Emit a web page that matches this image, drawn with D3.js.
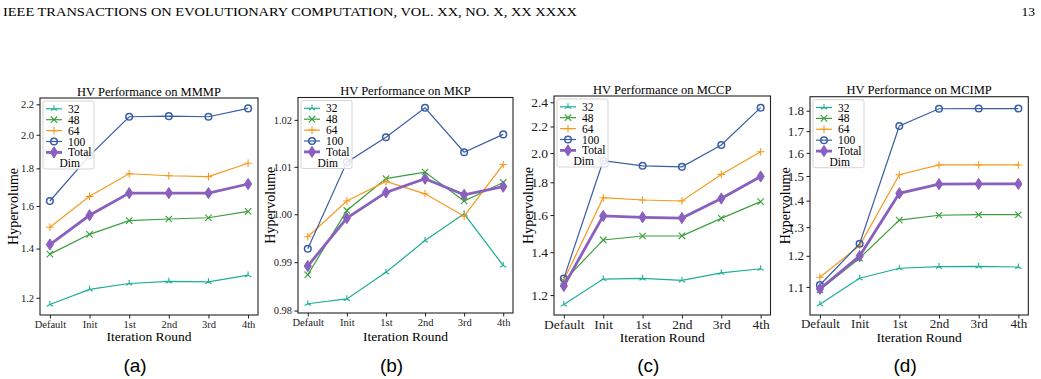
<!DOCTYPE html>
<html>
<head>
<meta charset="utf-8">
<script src="https://cdn.jsdelivr.net/npm/d3@7"></script>
<style>
  body { margin: 0; background: #fff; }
  svg { display: block; }
</style>
</head>
<body>
<svg width="1041" height="379"></svg>
<script>
// values
const rounds = ['Default', 'Init', '1st', '2nd', '3rd', '4th'];
const dimNames = ['32', '48', '64', '100', 'Total'];
const dimColors = ['#1cae98', '#3a9f3c', '#f59a1e', '#3a5da6', '#8a60bf'];

// rows: 32, 48, 64, 100, Total
const mmmp = [
  [1.175, 1.232, 1.255, 1.263, 1.261, 1.288],
  [1.376, 1.464, 1.528, 1.536, 1.542, 1.573],
  [1.497, 1.649, 1.770, 1.759, 1.754, 1.829],
  [1.625, 1.873, 2.116, 2.120, 2.116, 2.172],
  [1.418, 1.554, 1.666, 1.666, 1.666, 1.714]
];
const mmmpTicks = [1.2, 1.4, 1.6, 1.8, 2.0, 2.2];

const mkp = [
  [0.9814, 0.9824, 0.9879, 0.9945, 1.0001, 0.9893],
  [0.9874, 1.0008, 1.0075, 1.0089, 1.0028, 1.0067],
  [0.9953, 1.0028, 1.0069, 1.0043, 0.9996, 1.0105],
  [0.9928, 1.0110, 1.0163, 1.0226, 1.0131, 1.0169],
  [0.9892, 0.9992, 1.0046, 1.0075, 1.0041, 1.0058]
];
const mkpTicks = [0.98, 0.99, 1.00, 1.01, 1.02];

const mccp = [
  [1.160, 1.271, 1.274, 1.265, 1.300, 1.319],
  [1.262, 1.463, 1.484, 1.485, 1.581, 1.679],
  [1.266, 1.703, 1.689, 1.683, 1.852, 2.009],
  [1.274, 1.945, 1.910, 1.903, 2.058, 2.354],
  [1.240, 1.595, 1.587, 1.583, 1.698, 1.838]
];
const mccpTicks = [1.2, 1.4, 1.6, 1.8, 2.0, 2.2, 2.4];

const mcimp = [
  [1.048, 1.127, 1.159, 1.164, 1.165, 1.163],
  [1.091, 1.192, 1.326, 1.344, 1.346, 1.346],
  [1.130, 1.235, 1.505, 1.547, 1.547, 1.547],
  [1.106, 1.241, 1.725, 1.810, 1.811, 1.811],
  [1.094, 1.199, 1.429, 1.466, 1.467, 1.467]
];
const mcimpTicks = [1.1, 1.2, 1.3, 1.4, 1.5, 1.6, 1.7, 1.8];

// each subfigure was a separate image, so each gets its own box / font sizes
var panels = [
  {title: 'HV Performance on MMMP', data: mmmp, ticks: mmmpTicks, fmt: '.1f', dom: [1.137, 2.244],
   x: 40, y: 98, w: 218, h: 217, tickFont: 10.5, xPad: 2, xlabY: 340.5, ylabX: 13, tag: '(a)'},
  {title: 'HV Performance on MKP', data: mkp, ticks: mkpTicks, fmt: '.2f', dom: [0.9795, 1.0248],
   x: 298, y: 97.5, w: 215, h: 215.5, tickFont: 10.5, xPad: 2, xlabY: 340.5, ylabX: 270, tag: '(b)'},
  {title: 'HV Performance on MCCP', data: mccp, ticks: mccpTicks, fmt: '.1f', dom: [1.117, 2.455],
   x: 554, y: 96, w: 216.5, h: 219, tickFont: 13.5, xPad: 0.5, xlabY: 342, ylabX: 528, tag: '(c)'},
  {title: 'HV Performance on MCIMP', data: mcimp, ticks: mcimpTicks, fmt: '.1f', dom: [1.017, 1.872],
   x: 810, y: 96.7, w: 218.3, h: 218.3, tickFont: 13, xPad: 0.5, xlabY: 342, ylabX: 785, tag: '(d)'}
];

var serif = '"Liberation Serif", "Times New Roman", serif';
var svg = d3.select('svg');

svg.append('text')
  .attr('x', 3).attr('y', 16)
  .attr('textLength', 574).attr('lengthAdjust', 'spacingAndGlyphs')
  .style('font-family', serif).style('font-size', '13.5px')
  .text('IEEE TRANSACTIONS ON EVOLUTIONARY COMPUTATION, VOL. XX, NO. X, XX XXXX');
svg.append('text')
  .attr('x', 1035).attr('y', 16).attr('text-anchor', 'end')
  .style('font-family', serif).style('font-size', '13.5px')
  .text('13');

function drawMarker(g, i, color) {
  if (i === 0) {
    // tri_up
    var r = 3.6;
    g.append('path')
      .attr('d', 'M0,0L0,' + (-r) + 'M0,0L' + (-r * 0.87) + ',' + (r * 0.5) + 'M0,0L' + (r * 0.87) + ',' + (r * 0.5))
      .attr('stroke', color).attr('stroke-width', 1.1).attr('fill', 'none');
  } else if (i === 1) {
    var s = 3.2;
    g.append('path')
      .attr('d', `M${-s},${-s}L${s},${s}M${-s},${s}L${s},${-s}`)
      .attr('stroke', color).attr('stroke-width', 1.1).attr('fill', 'none');
  } else if (i === 2) {
    var p = 3.8;
    g.append('path')
      .attr('d', `M${-p},0L${p},0M0,${-p}L0,${p}`)
      .attr('stroke', color).attr('stroke-width', 1.1).attr('fill', 'none');
  } else if (i === 3) {
    g.append('circle').attr('r', 3.3)
      .attr('fill', 'none').attr('stroke', color).attr('stroke-width', 1.5);
  } else {
    g.append('path')
      .attr('d', 'M0,-5.6L3.6,0L0,5.6L-3.6,0Z')
      .attr('fill', color).attr('stroke', color).attr('stroke-width', 1);
  }
}

panels.forEach(function(pn) {
  var g = svg.append('g');

  var x = d3.scalePoint()
    .domain(rounds)
    .range([pn.x, pn.x + pn.w])
    .padding(0.25);

  var y = d3.scaleLog()
    .domain(pn.dom)
    .range([pn.y + pn.h, pn.y]);

  // axes
  var yAxis = d3.axisLeft(y)
    .tickValues(pn.ticks)
    .tickFormat(d3.format(pn.fmt))
    .tickSize(3.5)
    .tickPadding(2.5);
  var ya = g.append('g')
    .attr('transform', 'translate(' + pn.x + ',0)')
    .call(yAxis);

  var xAxis = d3.axisBottom(x)
    .tickSize(3.5)
    .tickPadding(pn.xPad);
  var xa = g.append('g')
    .attr('transform', 'translate(0,' + (pn.y + pn.h) + ')')
    .call(xAxis);

  [ya, xa].forEach(a => {
    a.select('.domain').remove();
    a.selectAll('line').attr('stroke', '#000').attr('stroke-width', 0.9);
    a.selectAll('text')
      .attr('fill', '#222')
      .style('font-family', serif)
      .style('font-size', pn.tickFont + 'px');
  });

  // lines + markers
  var line = d3.line()
    .x((d, j) => x(rounds[j]))
    .y(d => y(d));

  pn.data.forEach(function(series, i) {
    g.append('path')
      .datum(series)
      .attr('d', line)
      .attr('fill', 'none')
      .attr('stroke', dimColors[i])
      .attr('stroke-width', i === 4 ? 2.8 : 1.2);
    series.forEach(function(v, j) {
      var m = g.append('g')
        .attr('transform', 'translate(' + x(rounds[j]) + ',' + y(v) + ')');
      drawMarker(m, i, dimColors[i]);
    });
  });

  // frame
  g.append('rect')
    .attr('x', pn.x).attr('y', pn.y)
    .attr('width', pn.w).attr('height', pn.h)
    .attr('fill', 'none')
    .attr('stroke', '#222')
    .attr('stroke-width', 1.1);

  // legend
  var lx = pn.x + 3, ly = pn.y + 3;
  var lg = g.append('g');
  lg.append('rect')
    .attr('x', lx).attr('y', ly)
    .attr('width', 51).attr('height', 68)
    .attr('rx', 2)
    .attr('fill', '#fff').attr('fill-opacity', 0.85)
    .attr('stroke', '#d0d0d0').attr('stroke-width', 0.9);
  dimNames.forEach(function(name, i) {
    var cy = ly + 7.8 + i * 10.9;
    lg.append('line')
      .attr('x1', lx + 3).attr('x2', lx + 19)
      .attr('y1', cy).attr('y2', cy)
      .attr('stroke', dimColors[i])
      .attr('stroke-width', i === 4 ? 2.8 : 1.2);
    drawMarker(lg.append('g').attr('transform', 'translate(' + (lx + 11) + ',' + cy + ')'), i, dimColors[i]);
    lg.append('text')
      .attr('x', lx + 25).attr('y', cy + 4)
      .style('font-family', serif).style('font-size', '11.5px')
      .text(name);
  });
  lg.append('text')
    .attr('x', lx + 16.5).attr('y', ly + 7.8 + 5 * 10.9 + 4)
    .style('font-family', serif).style('font-size', '11.5px')
    .text('Dim');

  // title + axis labels
  g.append('text')
    .attr('x', pn.x + pn.w / 2).attr('y', pn.y - 2.5)
    .attr('text-anchor', 'middle')
    .style('font-family', serif).style('font-size', '12.5px')
    .text(pn.title);

  g.append('text')
    .attr('x', pn.x + pn.w / 2).attr('y', pn.xlabY)
    .attr('text-anchor', 'middle')
    .style('font-family', serif).style('font-size', '13.5px')
    .text('Iteration Round');

  g.append('text')
    .attr('transform', 'translate(' + (pn.ylabX + 4.5) + ',' + (pn.y + pn.h / 2) + ') rotate(-90)')
    .attr('text-anchor', 'middle')
    .style('font-family', serif).style('font-size', '14px')
    .text('Hypervolume');

  g.append('text')
    .attr('x', pn.x + pn.w / 2 - 14).attr('y', 371.5)
    .attr('text-anchor', 'middle')
    .style('font-family', '"Liberation Sans", Arial, sans-serif').style('font-size', '19px')
    .text(pn.tag);
});
</script>
</body>
</html>
